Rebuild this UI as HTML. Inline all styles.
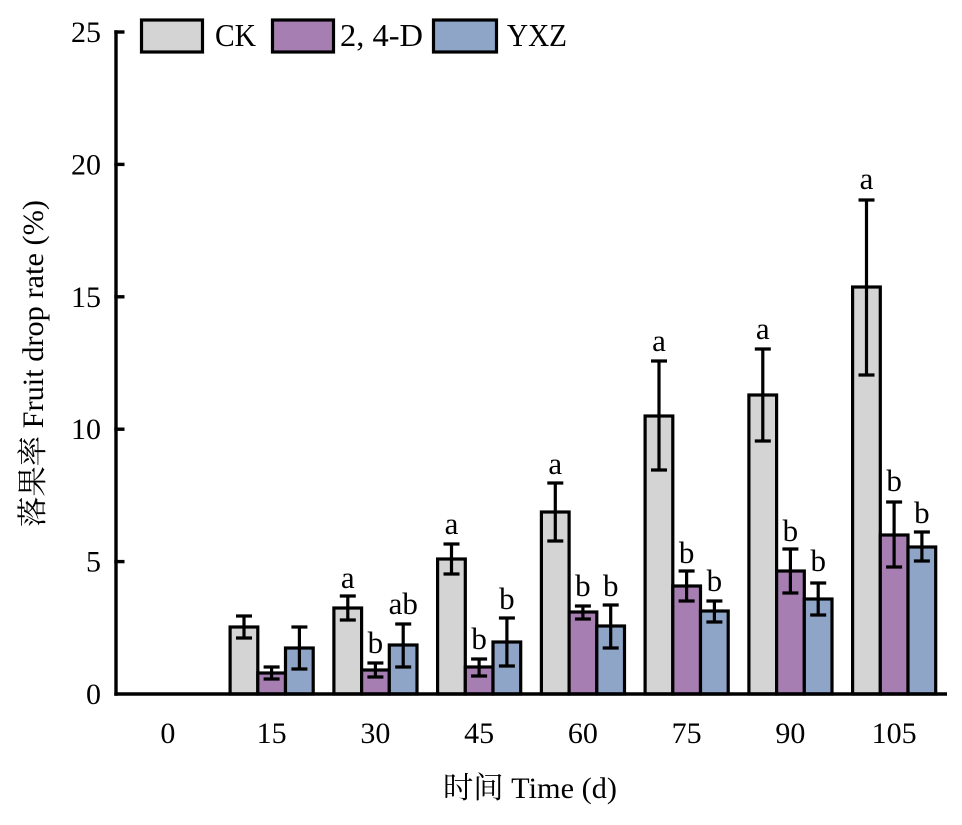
<!DOCTYPE html>
<html>
<head>
<meta charset="utf-8">
<style>
html,body{margin:0;padding:0;background:#fff;}
svg{display:block;}
text{font-family:"Liberation Serif","Noto Serif CJK SC","Noto Sans CJK SC",serif;fill:#000;}
</style>
</head>
<body>
<svg width="962" height="825" viewBox="0 0 962 825" xmlns="http://www.w3.org/2000/svg">
<rect x="0" y="0" width="962" height="825" fill="#fff"/>

<!-- Y axis -->
<line x1="116" y1="30.3" x2="116" y2="695.7" stroke="#000" stroke-width="3.4"/>
<g stroke="#000" stroke-width="3.4">
<line x1="114.3" y1="32" x2="124.5" y2="32"/>
<line x1="114.3" y1="164.4" x2="124.5" y2="164.4"/>
<line x1="114.3" y1="296.8" x2="124.5" y2="296.8"/>
<line x1="114.3" y1="429.2" x2="124.5" y2="429.2"/>
<line x1="114.3" y1="561.6" x2="124.5" y2="561.6"/>
</g>
<g font-size="30" text-anchor="end">
<text x="101" y="42">25</text>
<text x="101" y="174.4">20</text>
<text x="101" y="306.8">15</text>
<text x="101" y="439.2">10</text>
<text x="101" y="571.6">5</text>
<text x="101" y="704">0</text>
</g>

<!-- Bars -->
<g stroke="#000" stroke-width="3.2">
<!-- 15 c=271.6 -->
<rect x="230.1" y="627" width="27.7" height="67" fill="#d4d4d4"/>
<rect x="257.8" y="673" width="27.7" height="21" fill="#a67eb2"/>
<rect x="285.5" y="648" width="27.7" height="46" fill="#8fa5c7"/>
<!-- 30 c=375.4 -->
<rect x="333.9" y="608" width="27.7" height="86" fill="#d4d4d4"/>
<rect x="361.6" y="670" width="27.7" height="24" fill="#a67eb2"/>
<rect x="389.3" y="645" width="27.7" height="49" fill="#8fa5c7"/>
<!-- 45 c=479.1 -->
<rect x="437.6" y="559" width="27.7" height="135" fill="#d4d4d4"/>
<rect x="465.3" y="667" width="27.7" height="27" fill="#a67eb2"/>
<rect x="493" y="642" width="27.7" height="52" fill="#8fa5c7"/>
<!-- 60 c=582.9 -->
<rect x="541.4" y="512" width="27.7" height="182" fill="#d4d4d4"/>
<rect x="569.1" y="612" width="27.7" height="82" fill="#a67eb2"/>
<rect x="596.8" y="626" width="27.7" height="68" fill="#8fa5c7"/>
<!-- 75 c=686.6 -->
<rect x="645.1" y="416" width="27.7" height="278" fill="#d4d4d4"/>
<rect x="672.8" y="586" width="27.7" height="108" fill="#a67eb2"/>
<rect x="700.5" y="611" width="27.7" height="83" fill="#8fa5c7"/>
<!-- 90 c=790.4 -->
<rect x="748.9" y="395" width="27.7" height="299" fill="#d4d4d4"/>
<rect x="776.6" y="571" width="27.7" height="123" fill="#a67eb2"/>
<rect x="804.3" y="599" width="27.7" height="95" fill="#8fa5c7"/>
<!-- 105 c=894.1 -->
<rect x="852.6" y="287" width="27.7" height="407" fill="#d4d4d4"/>
<rect x="880.3" y="535" width="27.7" height="159" fill="#a67eb2"/>
<rect x="908" y="547" width="27.7" height="147" fill="#8fa5c7"/>
</g>

<!-- Error bars -->
<g stroke="#000" stroke-width="3.2" fill="none">
<path d="M244 616V638M236 616H252M236 638H252"/>
<path d="M271.6 667V679M263.6 667H279.6M263.6 679H279.6"/>
<path d="M299.4 627V669M291.4 627H307.4M291.4 669H307.4"/>

<path d="M347.8 596V620M339.8 596H355.8M339.8 620H355.8"/>
<path d="M375.4 663V677M367.4 663H383.4M367.4 677H383.4"/>
<path d="M403.2 624V667M395.2 624H411.2M395.2 667H411.2"/>

<path d="M451.5 544V574M443.5 544H459.5M443.5 574H459.5"/>
<path d="M479.1 659V676M471.1 659H487.1M471.1 676H487.1"/>
<path d="M506.9 618V666M498.9 618H514.9M498.9 666H514.9"/>

<path d="M555.3 483V541M547.3 483H563.3M547.3 541H563.3"/>
<path d="M582.9 606V619M574.9 606H590.9M574.9 619H590.9"/>
<path d="M610.7 605V648M602.7 605H618.7M602.7 648H618.7"/>

<path d="M659 361V470M651 361H667M651 470H667"/>
<path d="M686.6 571V601M678.6 571H694.6M678.6 601H694.6"/>
<path d="M714.4 601V622M706.4 601H722.4M706.4 622H722.4"/>

<path d="M762.8 349V441M754.8 349H770.8M754.8 441H770.8"/>
<path d="M790.4 549V593M782.4 549H798.4M782.4 593H798.4"/>
<path d="M818.2 583V615M810.2 583H826.2M810.2 615H826.2"/>

<path d="M866.5 200V375M858.5 200H874.5M858.5 375H874.5"/>
<path d="M894.1 502V567M886.1 502H902.1M886.1 567H902.1"/>
<path d="M921.9 532V561M913.9 532H929.9M913.9 561H929.9"/>
</g>

<!-- Significance letters -->
<g font-size="31" text-anchor="middle">
<text x="347.8" y="588">a</text>
<text x="375.4" y="653">b</text>
<text x="403.2" y="614">ab</text>

<text x="451.5" y="534">a</text>
<text x="479.1" y="649">b</text>
<text x="506.9" y="609">b</text>

<text x="555.3" y="474">a</text>
<text x="582.9" y="596">b</text>
<text x="610.7" y="596">b</text>

<text x="659" y="351">a</text>
<text x="686.6" y="563">b</text>
<text x="714.4" y="591">b</text>

<text x="762.8" y="339">a</text>
<text x="790.4" y="541">b</text>
<text x="818.2" y="571">b</text>

<text x="866.5" y="189">a</text>
<text x="894.1" y="491">b</text>
<text x="921.9" y="523">b</text>
</g>

<!-- X axis -->
<line x1="114.3" y1="694" x2="947" y2="694" stroke="#000" stroke-width="3.4"/>
<g font-size="30" text-anchor="middle">
<text x="167.9" y="743">0</text>
<text x="271.6" y="743">15</text>
<text x="375.4" y="743">30</text>
<text x="479.1" y="743">45</text>
<text x="582.9" y="743">60</text>
<text x="686.6" y="743">75</text>
<text x="790.4" y="743">90</text>
<text x="894.1" y="743">105</text>
</g>

<!-- Axis titles -->
<text x="443" y="798" font-size="30" textLength="174" lengthAdjust="spacingAndGlyphs">时间 Time (d)</text>
<text transform="translate(43,527) rotate(-90)" x="0" y="0" font-size="30" textLength="327" lengthAdjust="spacingAndGlyphs">落果率 Fruit drop rate (%)</text>

<!-- Legend -->
<g stroke="#000" stroke-width="3.2">
<rect x="141.5" y="20" width="61" height="32" fill="#d4d4d4"/>
<rect x="272.5" y="20" width="61" height="32" fill="#a67eb2"/>
<rect x="433.5" y="20" width="63" height="32" fill="#8fa5c7"/>
</g>
<g font-size="32">
<text x="215" y="46" textLength="41" lengthAdjust="spacingAndGlyphs">CK</text>
<text x="340" y="46" textLength="83" lengthAdjust="spacingAndGlyphs">2, 4-D</text>
<text x="507" y="46" textLength="60" lengthAdjust="spacingAndGlyphs">YXZ</text>
</g>
</svg>
</body>
</html>
